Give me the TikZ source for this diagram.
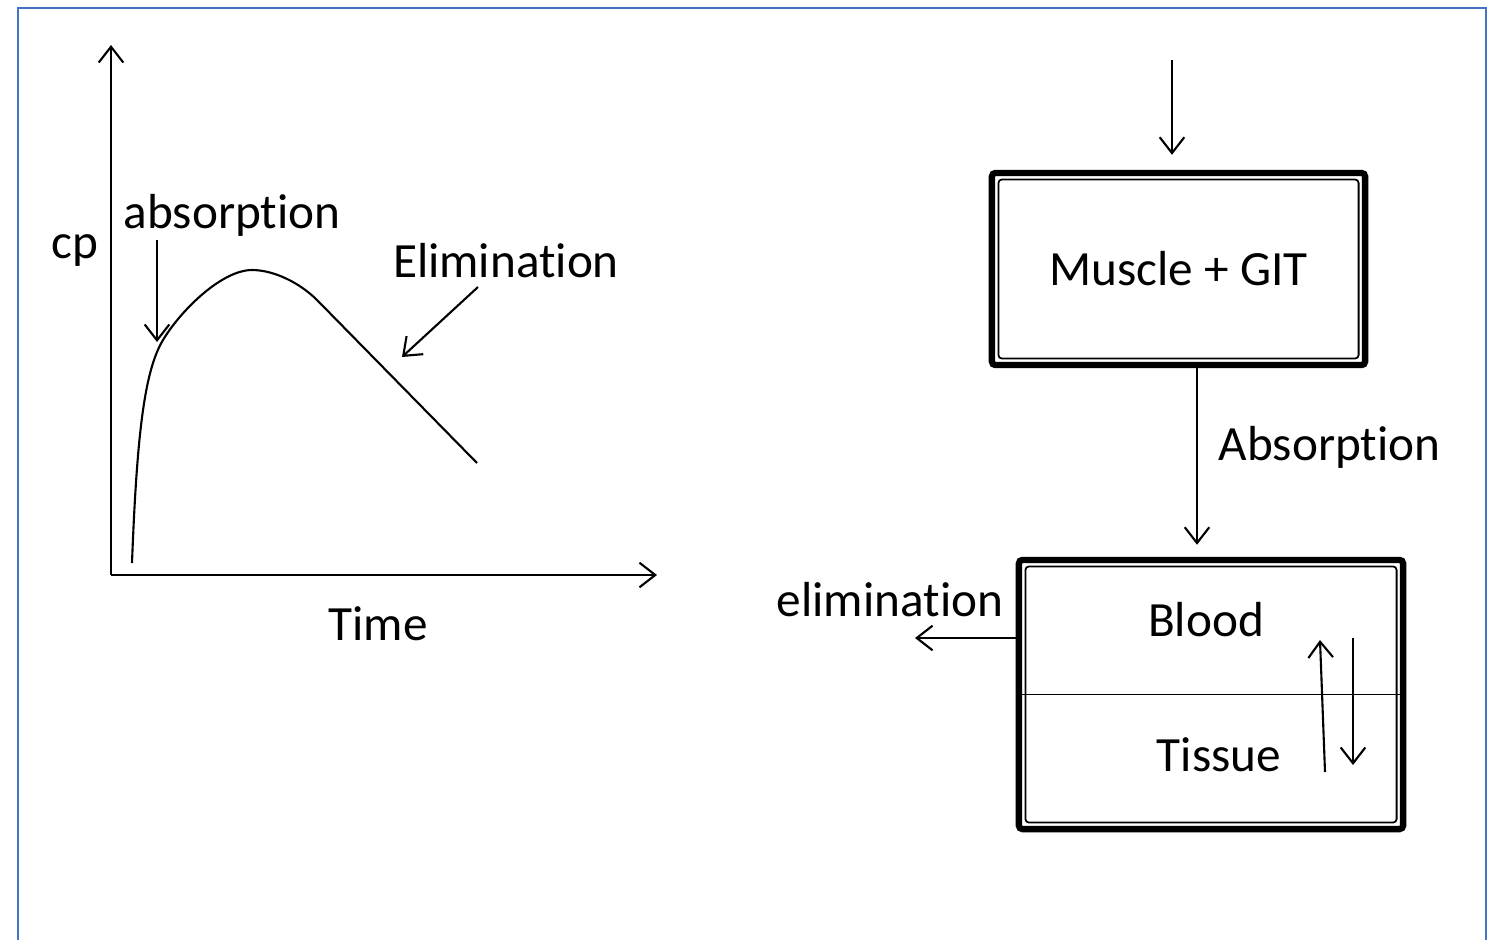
\documentclass[tikz,border=0pt]{standalone}
\usepackage{fontspec}
\setmainfont[Ligatures=NoCommon]{Carlito}
\usetikzlibrary{arrows.meta,calc}
\definecolor{framecol}{HTML}{4472C4}
\tikzset{
  barb/.style={-{Straight Barb[length=4.5pt,width=7pt]}, line width=0.6pt},
  lbl/.style={font=\fontsize{14}{16}\selectfont, inner sep=0pt},
  compbox/.style={draw, line width=1.8pt, rounded corners=1pt, inner sep=0pt,
    font=\fontsize{14}{16}\selectfont,
    path picture={\draw[line width=0.5pt]
      ([shift={(0.065cm,-0.065cm)}]path picture bounding box.north west) rectangle
      ([shift={(-0.065cm,0.065cm)}]path picture bounding box.south east);}},
}
\begin{document}
\begin{tikzpicture}[x=0.01cm,y=-0.01cm]
    \useasboundingbox (0,0) rectangle (1497,939);
    \draw[framecol, line width=0.7pt] (18,945) -- (18,8) -- (1486,8) -- (1486,945);

    % concentration curve
    \coordinate (O) at (111,575);
    \coordinate (ytop) at (111,45);
    \coordinate (xend) at (657,575);
    \draw[barb] (O) -- (ytop);
    \draw[barb] (O) -- (xend);
    \node[lbl] (cp) at (75,250) {cp};
    \node[lbl] (time) at (378,624) {Time};
    \node[lbl] (absorb) at (232,215) {absorption};
    \node[lbl] (elim) at (506,261) {Elimination};
    \draw[line width=0.6pt] (132,563) .. controls (137,430) and (145,370) .. (163,340)
        .. controls (181,310) and (222,270) .. (252,270)
        .. controls (274,270) and (300,283) .. (317,300) -- (477,463);
    \coordinate (absTail) at (157,240);
    \coordinate (absTip) at (157,342);
    \draw[barb] (absTail) -- (absTip);
    \coordinate (elimTail) at (478,287);
    \coordinate (elimTip) at (402,357);
    \draw[barb] (elimTail) -- (elimTip);

    % compartments
    \node[compbox, minimum width=3.73cm, minimum height=1.92cm] (muscle) at (1178.5,269) {Muscle + GIT};
    \node[compbox, minimum width=3.84cm, minimum height=2.69cm] (blood) at (1211,694.5) {};
    \draw[line width=0.5pt] (blood.west) -- (blood.east);
    \node[lbl] (bloodtxt) at (1206,620) {Blood};
    \node[lbl] (tissuetxt) at (1219,755) {Tissue};
    \coordinate (dose) at (1172,60);
    \draw[barb, shorten >=0.15cm] (dose) -- (dose |- muscle.north);
    \coordinate (absTop) at ($(muscle.south)+(18.5,0)$);
    \draw[barb, shorten >=0.12cm] (absTop) -- (absTop |- blood.north);
    \node[lbl, anchor=west] (absorb2) at (1218,447) {Absorption};
    \coordinate (elimOut) at (915,638);
    \draw[barb] (blood.west |- elimOut) -- (elimOut);
    \node[lbl] (elim2) at (890,600) {elimination};
    \coordinate (upA) at (1325,772);
    \coordinate (upB) at (1320,640);
    \coordinate (downA) at (1353,638);
    \coordinate (downB) at (1353,765);
    \draw[barb] (upA) -- (upB);
    \draw[barb] (downA) -- (downB);
\end{tikzpicture}
\end{document}
